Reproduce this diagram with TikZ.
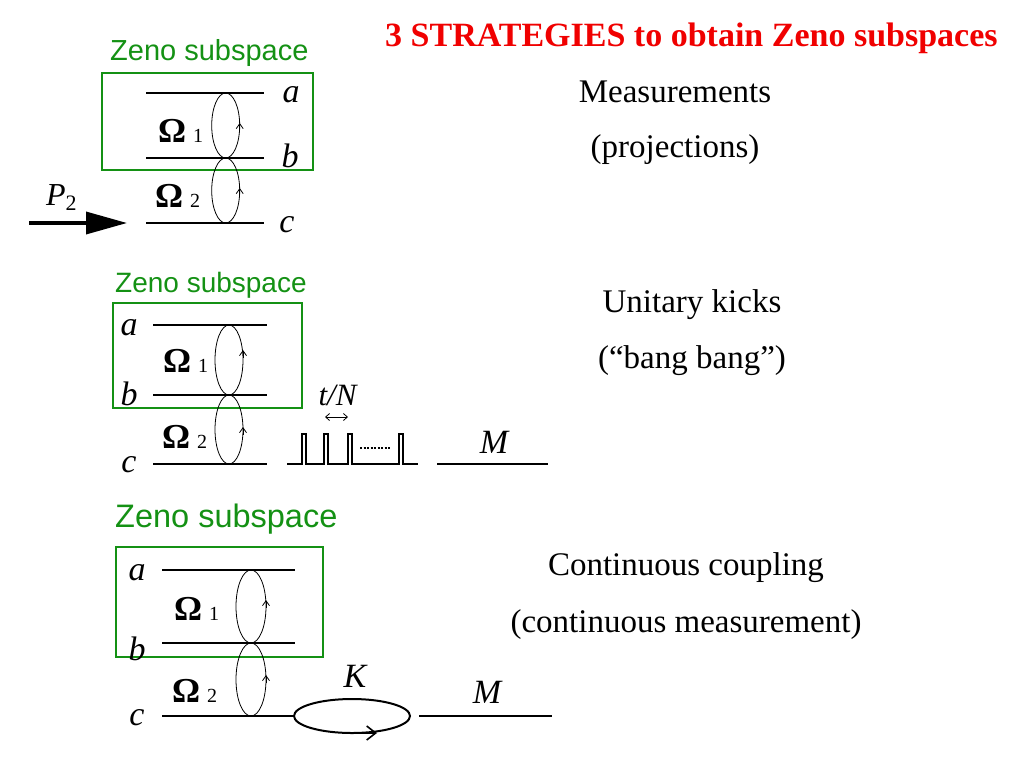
\documentclass[tikz,border=0pt]{standalone}
\usepackage{fontspec}
\setmainfont{Liberation Serif}
\newfontfamily\zenofont{Liberation Sans}
\usetikzlibrary{arrows.meta}

\definecolor{zenogreen}{RGB}{20,145,20}
\definecolor{titlered}{RGB}{240,0,0}

\newcommand{\rabiOmega}[1]{{\fontsize{35}{40}\selectfont\bfseries Ω}\hspace{7pt}{\fontsize{20}{22}\selectfont #1}}

\tikzset{
	level/.style={line width=1.7pt},
	zenobox/.style={draw=zenogreen,line width=1.5pt},
	zenolabel/.style={text=zenogreen,anchor=base west,inner sep=0pt},
	state/.style={font=\itshape\fontsize{34}{38}\selectfont,anchor=base,inner sep=0pt},
	omega/.style={anchor=base west,inner sep=0pt},
	rabi/.style={line width=0.8pt},
	rabitip/.style={rabi,-{Straight Barb[length=5pt,width=7pt]}},
	caption/.style={font=\fontsize{33}{40}\selectfont,anchor=base,inner sep=0pt}
}

\begin{document}
\begin{tikzpicture}[x=1pt,y=-1pt]
			\useasboundingbox (0,0) rectangle (1024,768);

			% Title
			\node[anchor=base west,inner sep=0pt,text=titlered,font=\bfseries\fontsize{34}{40}\selectfont] (title) at (385,47) {3 STRATEGIES to obtain Zeno subspaces};

			% Strategy 1: measurements
			\node[zenolabel,font=\zenofont\fontsize{29}{34}\selectfont] (zeno1) at (110,60) {Zeno subspace};
			\draw[zenobox] (102,73) rectangle (313,170);
			\draw[level] (146,93) -- (264,93);
			\draw[level] (146,158) -- (264,158);
			\draw[level] (146,223) -- (264,223);
			\node[state] (a1) at (291,102) {a};
			\node[state] (b1) at (290,167) {b};
			\node[state] (c1) at (287,232) {c};
			\node[omega] (om11) at (158,142) {\rabiOmega{1}};
			\node[omega] (om21) at (155,207) {\rabiOmega{2}};
			\draw[rabi] (225.7,125.5) ellipse (14 and 32.5);
			\draw[rabi] (225.7,190.5) ellipse (14 and 32.5);
			\draw[rabitip] (239.7,131) -- (239.7,123);
			\draw[rabitip] (239.7,196) -- (239.7,188);
			\coordinate (p2tail) at (29,223);
			\coordinate (p2head) at (127,223);
			\draw[line width=3.5pt,-{Triangle[length=41pt,width=22pt]}] (p2tail) -- (p2head);
			\node[anchor=base west,inner sep=0pt,font=\fontsize{32}{36}\selectfont] (p2) at (46,205) {\textit{P}\raisebox{-5pt}{\fontsize{22}{24}\selectfont 2}};
			\node[caption] (meas) at (675,102) {Measurements};
			\node[caption] (proj) at (675,157) {(projections)};

			% Strategy 2: unitary kicks
			\node[zenolabel,font=\zenofont\fontsize{28}{33}\selectfont] (zeno2) at (115,292) {Zeno subspace};
			\draw[zenobox] (113,303) rectangle (302,408);
			\draw[level] (153,325) -- (267,325);
			\draw[level] (153,395) -- (267,395);
			\draw[level] (153,464) -- (267,464);
			\node[state] (a2) at (129,335) {a};
			\node[state] (b2) at (129,405) {b};
			\node[state] (c2) at (129,472) {c};
			\node[omega] (om12) at (163,372) {\rabiOmega{1}};
			\node[omega] (om22) at (162,448) {\rabiOmega{2}};
			\draw[rabi] (229,360) ellipse (14 and 35);
			\draw[rabi] (229,429.5) ellipse (14 and 34.5);
			\draw[rabitip] (243,358) -- (243,350);
			\draw[rabitip] (243,435) -- (243,427);
			% pulse train
			\draw[level,line join=miter] (287,464) -- (302,464) -- (302,434) -- (306,434) -- (306,464)
				-- (324,464) -- (324,434) -- (328,434) -- (328,464)
				-- (348,464) -- (348,434) -- (352,434) -- (352,464)
				-- (399,464) -- (399,434) -- (403,434) -- (403,464) -- (418,464);
			\draw[line width=1.4pt,dash pattern=on 2pt off 1.5pt] (360,448) -- (391,448);
			\node[anchor=base,inner sep=0pt,font=\itshape\fontsize{31}{34}\selectfont] (tn) at (337.5,405) {t/N};
			\coordinate (tnleft) at (325,417);
			\coordinate (tnright) at (348,417);
			\draw[rabi,{Straight Barb[length=4pt,width=7pt]}-{Straight Barb[length=4pt,width=7pt]}] (tnleft) -- (tnright);
			\draw[level] (437,464) -- (548,464);
			\node[state] (m2) at (494,453) {M};
			\node[caption] (kicks) at (692,312) {Unitary kicks};
			\node[caption] (bang) at (692,368) {(“bang bang”)};

			% Strategy 3: continuous coupling
			\node[zenolabel,font=\zenofont\fontsize{32.5}{38}\selectfont] (zeno3) at (115,527) {Zeno subspace};
			\draw[zenobox] (116,547) rectangle (323,657);
			\draw[level] (162,570) -- (295,570);
			\draw[level] (162,643) -- (295,643);
			\draw[level] (162,716) -- (295,716);
			\node[state] (a3) at (137,580) {a};
			\node[state] (b3) at (137,660) {b};
			\node[state] (c3) at (137,725) {c};
			\node[omega] (om13) at (174,620) {\rabiOmega{1}};
			\node[omega] (om23) at (172,702) {\rabiOmega{2}};
			\draw[rabi] (251,606.5) ellipse (15 and 36.5);
			\draw[rabi] (251,679.5) ellipse (15 and 36.5);
			\draw[rabitip] (266,608) -- (266,600);
			\draw[rabitip] (266,683) -- (266,675);
			\draw[line width=2pt] (352,716) ellipse (58 and 17);
			\draw[line width=1.6pt,-{Straight Barb[length=9pt,width=14pt]}] (362,733) -- (377,733);
			\node[state] (k3) at (355,687) {K};
			\draw[level] (419,716) -- (552,716);
			\node[state] (m3) at (487,703) {M};
			\node[caption] (coup) at (686,575) {Continuous coupling};
			\node[caption] (cont) at (686,632) {(continuous measurement)};
		\end{tikzpicture}
\end{document}
